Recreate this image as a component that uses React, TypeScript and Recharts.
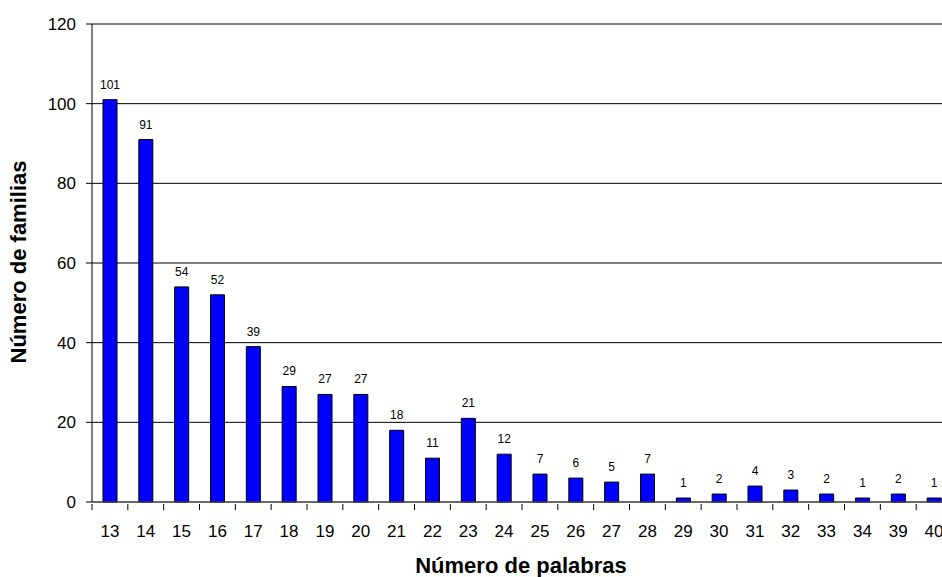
import { BarChart, Bar, XAxis, YAxis, CartesianGrid, LabelList } from 'recharts';

const palabras = ['13', '14', '15', '16', '17', '18', '19', '20', '21', '22', '23', '24', '25', '26', '27', '28', '29', '30', '31', '32', '33', '34', '39', '40'];
const familias = [101, 91, 54, 52, 39, 29, 27, 27, 18, 11, 21, 12, 7, 6, 5, 7, 1, 2, 4, 3, 2, 1, 2, 1];
const yTicks = [0, 20, 40, 60, 80, 100, 120];

const data = palabras.map((p, i) => ({ palabras: p, familias: familias[i] }));

const FONT = '"Liberation Sans", Arial, sans-serif';
const CHART_W = 960;
const PLOT_LEFT = 92;
const PLOT_RIGHT = 8;
const BAND = (CHART_W - PLOT_LEFT - PLOT_RIGHT) / palabras.length;

function XTick(props: any) {
  const { x, y, payload } = props;
  const left = x - BAND / 2;
  return (
    <g>
      <line x1={left} y1={y} x2={left} y2={y + 6} stroke="#000" strokeWidth={1} />
      <text x={x} y={y + 33} textAnchor="middle" fontSize={17} fontFamily={FONT} fill="#000">
        {payload.value}
      </text>
    </g>
  );
}

export default function App() {
  return (
    <div style={{ position: 'absolute', left: 0, top: 0, width: 942, height: 577, overflow: 'hidden', background: '#fff' }}>
      <BarChart
        width={CHART_W}
        height={577}
        data={data}
        margin={{ top: 24, right: PLOT_RIGHT, left: 32, bottom: 0 }}
        barCategoryGap={0}
      >
        <CartesianGrid vertical={false} stroke="#000" strokeWidth={1} />
        <XAxis
          dataKey="palabras"
          tickLine={false}
          tickSize={0}
          axisLine={{ stroke: '#555' }}
          tick={<XTick />}
          interval={0}
          height={75}
          label={{
            content: () => (
              <text x={521} y={573} textAnchor="middle" fontSize={22} fontWeight="bold" fontFamily={FONT} fill="#000">
                Número de palabras
              </text>
            ),
          }}
        />
        <YAxis
          domain={[0, 120]}
          ticks={yTicks}
          width={60}
          tickSize={6}
          tickMargin={10}
          axisLine={{ stroke: '#000' }}
          tickLine={{ stroke: '#000' }}
          tick={{ fontSize: 17, fontFamily: FONT, fill: '#000' }}
          label={{
            content: () => (
              <text
                x={26}
                y={262}
                transform="rotate(-90 26 262)"
                textAnchor="middle"
                fontSize={22}
                fontWeight="bold"
                fontFamily={FONT}
                fill="#000"
              >
                Número de familias
              </text>
            ),
          }}
        />
        <Bar dataKey="familias" fill="#0000FF" stroke="#000" strokeWidth={1} barSize={14} isAnimationActive={false}>
          <LabelList dataKey="familias" position="top" offset={11} fontSize={12} fontFamily={FONT} fill="#000" />
        </Bar>
      </BarChart>
    </div>
  );
}
